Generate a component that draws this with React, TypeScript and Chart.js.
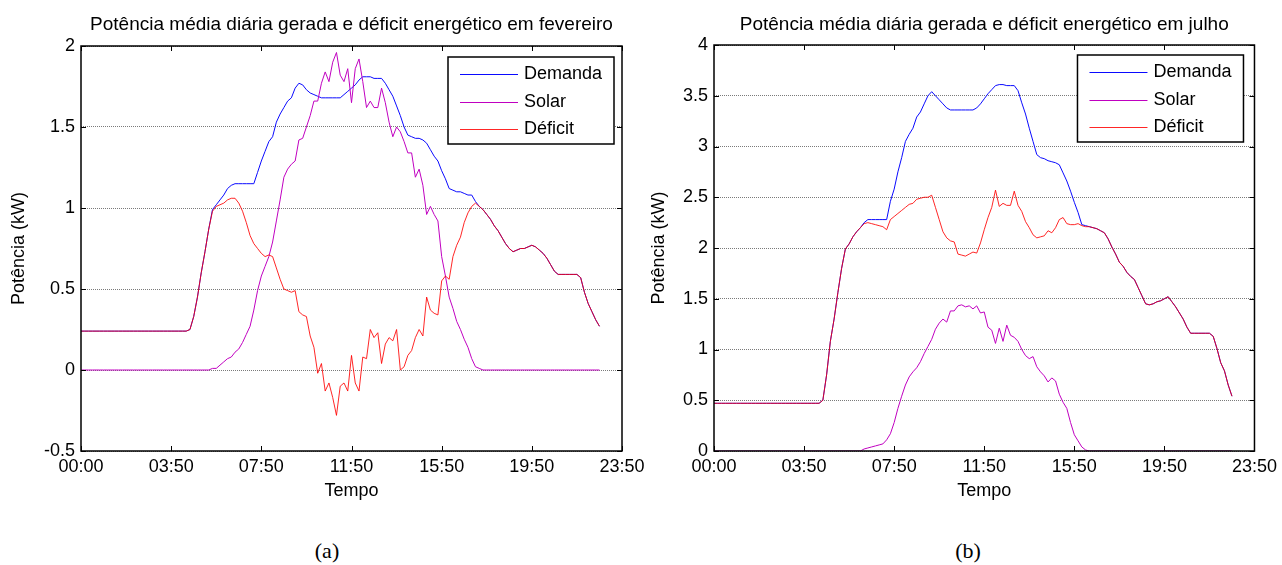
import React, { useEffect, useRef } from "react";
import { Chart, registerables } from "chart.js";

Chart.register(...registerables);

const FONT = '"Liberation Sans", Arial, Helvetica, sans-serif';
const SERIF = '"Liberation Serif", "Times New Roman", serif';

const TITLE_FEV = "Potência média diária gerada e déficit energético em fevereiro";
const TITLE_JUL = "Potência média diária gerada e déficit energético em julho";
const Y_TITLE = "Potência (kW)";
const X_TITLE = "Tempo";
const SERIES_NAMES = ["Demanda", "Solar", "Déficit"];
const SERIES_COLORS = ["#0a0aff", "#c000c0", "rgba(255,0,0,0.85)"];
const X_TICK_LABELS = ["00:00", "03:50", "07:50", "11:50", "15:50", "19:50", "23:50"];
const CAPTIONS = ["(a)", "(b)"];

// 10-minute samples, index 0 = 00:00
const DEMANDA_FEV = [
  0.24, 0.24, 0.24, 0.24, 0.24, 0.24, 0.24, 0.24, 0.24, 0.24,
  0.24, 0.24, 0.24, 0.24, 0.24, 0.24, 0.24, 0.24, 0.24, 0.24,
  0.24, 0.24, 0.24, 0.24, 0.24, 0.24, 0.24, 0.24, 0.24, 0.25,
  0.33, 0.45, 0.60, 0.73, 0.87, 0.99, 1.02, 1.05, 1.08, 1.12,
  1.14, 1.15, 1.15, 1.15, 1.15, 1.15, 1.15, 1.22, 1.29, 1.35,
  1.41, 1.44, 1.53, 1.58, 1.62, 1.66, 1.68, 1.74, 1.77, 1.76,
  1.73, 1.71, 1.70, 1.69, 1.68, 1.68, 1.68, 1.68, 1.68, 1.68,
  1.70, 1.72, 1.74, 1.76, 1.79, 1.81, 1.81, 1.81, 1.80, 1.80,
  1.80, 1.77, 1.73, 1.69, 1.63, 1.57, 1.50, 1.45, 1.44, 1.43,
  1.43, 1.42, 1.40, 1.36, 1.32, 1.29, 1.23, 1.18, 1.12, 1.11,
  1.10, 1.10, 1.09, 1.08, 1.08, 1.04, 1.01, 0.99, 0.96, 0.93,
  0.89, 0.86, 0.82, 0.78, 0.75, 0.73, 0.74, 0.75, 0.75, 0.76,
  0.77, 0.76, 0.74, 0.72, 0.69, 0.65, 0.61, 0.59, 0.59, 0.59,
  0.59, 0.59, 0.59, 0.57, 0.48, 0.41, 0.36, 0.31, 0.27,
];

const SOLAR_FEV = [
  0, 0, 0, 0, 0, 0, 0, 0, 0, 0,
  0, 0, 0, 0, 0, 0, 0, 0, 0, 0,
  0, 0, 0, 0, 0, 0, 0, 0, 0, 0,
  0, 0, 0, 0, 0, 0.01, 0.01, 0.03, 0.05, 0.07,
  0.08, 0.11, 0.13, 0.17, 0.22, 0.27, 0.37, 0.49, 0.58, 0.64,
  0.70, 0.79, 0.92, 1.05, 1.19, 1.24, 1.27, 1.29, 1.42, 1.43,
  1.50, 1.57, 1.66, 1.66, 1.77, 1.84, 1.78, 1.90, 1.96, 1.82,
  1.78, 1.86, 1.65, 1.86, 1.92, 1.78, 1.62, 1.66, 1.62, 1.62,
  1.74, 1.65, 1.53, 1.44, 1.50, 1.47, 1.41, 1.34, 1.34, 1.19,
  1.24, 1.14, 0.96, 1.01, 0.96, 0.92, 0.70, 0.58, 0.45, 0.38,
  0.30, 0.25, 0.19, 0.14, 0.07, 0.02, 0.01, 0, 0, 0,
  0, 0, 0, 0, 0, 0, 0, 0, 0, 0,
  0, 0, 0, 0, 0, 0, 0, 0, 0, 0,
  0, 0, 0, 0, 0, 0, 0, 0, 0,
];

const DEFICIT_FEV = [
  0.24, 0.24, 0.24, 0.24, 0.24, 0.24, 0.24, 0.24, 0.24, 0.24,
  0.24, 0.24, 0.24, 0.24, 0.24, 0.24, 0.24, 0.24, 0.24, 0.24,
  0.24, 0.24, 0.24, 0.24, 0.24, 0.24, 0.24, 0.24, 0.24, 0.25,
  0.33, 0.45, 0.60, 0.73, 0.87, 0.98, 1.01, 1.02, 1.03, 1.05,
  1.06, 1.06, 1.03, 0.98, 0.91, 0.83, 0.78, 0.75, 0.72, 0.70,
  0.71, 0.70, 0.63, 0.56, 0.50, 0.49, 0.48, 0.49, 0.36, 0.34,
  0.33, 0.21, 0.14, -0.02, 0.04, -0.13, -0.08, -0.17, -0.28, -0.10,
  -0.08, -0.13, 0.09, -0.08, -0.13, 0.08, 0.07, 0.25, 0.20, 0.23,
  0.04, 0.16, 0.20, 0.18, 0.25, 0.00, 0.02, 0.09, 0.12, 0.20,
  0.25, 0.21, 0.45, 0.37, 0.35, 0.34, 0.55, 0.58, 0.56, 0.70,
  0.77, 0.82, 0.91, 0.97, 1.01, 1.03, 1.01, 0.99, 0.96, 0.93,
  0.89, 0.86, 0.82, 0.78, 0.75, 0.73, 0.74, 0.75, 0.75, 0.76,
  0.77, 0.76, 0.74, 0.72, 0.69, 0.65, 0.61, 0.59, 0.59, 0.59,
  0.59, 0.59, 0.59, 0.57, 0.48, 0.41, 0.36, 0.31, 0.27,
];

const DEMANDA_JUL = [
  0.47, 0.47, 0.47, 0.47, 0.47, 0.47, 0.47, 0.47, 0.47, 0.47,
  0.47, 0.47, 0.47, 0.47, 0.47, 0.47, 0.47, 0.47, 0.47, 0.47,
  0.47, 0.47, 0.47, 0.47, 0.47, 0.47, 0.47, 0.47, 0.47, 0.50,
  0.75, 1.08, 1.30, 1.56, 1.80, 1.99, 2.04, 2.11, 2.16, 2.20,
  2.25, 2.28, 2.28, 2.28, 2.28, 2.28, 2.28, 2.46, 2.58, 2.75,
  2.89, 3.05, 3.12, 3.18, 3.29, 3.34, 3.42, 3.50, 3.54, 3.50,
  3.46, 3.42, 3.38, 3.36, 3.36, 3.36, 3.36, 3.36, 3.36, 3.36,
  3.38, 3.42, 3.47, 3.52, 3.56, 3.60, 3.61, 3.61, 3.60, 3.60,
  3.60, 3.55, 3.43, 3.32, 3.18, 3.05, 2.92, 2.89, 2.88, 2.86,
  2.85, 2.84, 2.82, 2.74, 2.66, 2.56, 2.45, 2.35, 2.23, 2.22,
  2.21, 2.20, 2.19, 2.17, 2.15, 2.09, 2.01, 1.94, 1.86, 1.82,
  1.76, 1.72, 1.69, 1.61, 1.53, 1.45, 1.44, 1.45, 1.47, 1.48,
  1.50, 1.52, 1.47, 1.42, 1.36, 1.30, 1.22, 1.16, 1.16, 1.16,
  1.16, 1.16, 1.16, 1.13, 1.01, 0.87, 0.79, 0.65, 0.54,
];

const SOLAR_JUL = [
  0, 0, 0, 0, 0, 0, 0, 0, 0, 0,
  0, 0, 0, 0, 0, 0, 0, 0, 0, 0,
  0, 0, 0, 0, 0, 0, 0, 0, 0, 0,
  0, 0, 0, 0, 0, 0, 0, 0, 0, 0,
  0.02, 0.03, 0.04, 0.05, 0.06, 0.07, 0.11, 0.17, 0.28, 0.42,
  0.54, 0.65, 0.73, 0.78, 0.82, 0.88, 0.96, 1.03, 1.10, 1.20,
  1.26, 1.30, 1.27, 1.38, 1.38, 1.43, 1.44, 1.42, 1.43, 1.40,
  1.43, 1.36, 1.37, 1.22, 1.19, 1.06, 1.21, 1.08, 1.24, 1.14,
  1.12, 1.08, 1.00, 0.94, 0.91, 0.93, 0.83, 0.78, 0.74, 0.68,
  0.72, 0.69, 0.56, 0.48, 0.42, 0.28, 0.16, 0.10, 0.04, 0.01,
  0, 0, 0, 0, 0, 0, 0, 0, 0, 0,
  0, 0, 0, 0, 0, 0, 0, 0, 0, 0,
  0, 0, 0, 0, 0, 0, 0, 0, 0, 0,
  0, 0, 0, 0, 0, 0, 0, 0, 0,
];

const DEFICIT_JUL = [
  0.47, 0.47, 0.47, 0.47, 0.47, 0.47, 0.47, 0.47, 0.47, 0.47,
  0.47, 0.47, 0.47, 0.47, 0.47, 0.47, 0.47, 0.47, 0.47, 0.47,
  0.47, 0.47, 0.47, 0.47, 0.47, 0.47, 0.47, 0.47, 0.47, 0.50,
  0.75, 1.08, 1.30, 1.56, 1.80, 1.99, 2.04, 2.11, 2.16, 2.20,
  2.24, 2.25, 2.24, 2.23, 2.22, 2.21, 2.18, 2.28, 2.31, 2.34,
  2.37, 2.40, 2.43, 2.44, 2.48, 2.49, 2.50, 2.50, 2.52, 2.40,
  2.28, 2.16, 2.10, 2.07, 2.06, 1.94, 1.93, 1.92, 1.94, 1.96,
  1.95, 2.05, 2.18, 2.30, 2.40, 2.57, 2.41, 2.44, 2.42, 2.42,
  2.56, 2.42, 2.36, 2.26, 2.20, 2.13, 2.10, 2.11, 2.12, 2.17,
  2.15, 2.20, 2.28, 2.30, 2.24, 2.23, 2.23, 2.24, 2.22, 2.21,
  2.21, 2.20, 2.19, 2.17, 2.15, 2.09, 2.01, 1.94, 1.86, 1.82,
  1.76, 1.72, 1.69, 1.61, 1.53, 1.45, 1.44, 1.45, 1.47, 1.48,
  1.50, 1.52, 1.47, 1.42, 1.36, 1.30, 1.22, 1.16, 1.16, 1.16,
  1.16, 1.16, 1.16, 1.13, 1.01, 0.87, 0.79, 0.65, 0.54,
];

const matlabFrame = {
  id: "matlabFrame",
  afterDatasetsDraw(chart: any) {
    const { ctx, chartArea: a, scales } = chart;
    const xs = scales.x;
    const ys = scales.y;
    ctx.save();
    ctx.strokeStyle = "#000";
    ctx.lineWidth = 1;
    ctx.beginPath();
    xs.ticks.forEach((t: any) => {
      const px = Math.round(xs.getPixelForValue(t.value)) + 0.5;
      ctx.moveTo(px, a.bottom);
      ctx.lineTo(px, a.bottom - 5);
      ctx.moveTo(px, a.top);
      ctx.lineTo(px, a.top + 5);
    });
    ys.ticks.forEach((t: any) => {
      const py = Math.round(ys.getPixelForValue(t.value)) + 0.5;
      ctx.moveTo(a.left, py);
      ctx.lineTo(a.left + 5, py);
      ctx.moveTo(a.right, py);
      ctx.lineTo(a.right - 5, py);
    });
    ctx.stroke();
    ctx.lineWidth = 1.5;
    ctx.strokeRect(a.left, a.top, a.right - a.left, a.bottom - a.top);
    ctx.restore();
  },
};

const centeredTitle = {
  id: "centeredTitle",
  afterDraw(chart: any, _args: any, opts: any) {
    const { ctx, chartArea: a } = chart;
    ctx.save();
    ctx.font = `19px ${FONT}`;
    ctx.fillStyle = "#000";
    ctx.textAlign = "center";
    ctx.textBaseline = "middle";
    ctx.fillText(opts.text, (a.left + a.right) / 2, opts.y);
    ctx.restore();
  },
};

const boxLegend = {
  id: "boxLegend",
  afterDraw(chart: any, _args: any, opts: any) {
    const { ctx, chartArea: a } = chart;
    const w = 166;
    const h = 87;
    const left = a.right - opts.right - w;
    const top = a.top + opts.top;
    ctx.save();
    ctx.fillStyle = "#fff";
    ctx.fillRect(left, top, w, h);
    ctx.strokeStyle = "#000";
    ctx.lineWidth = 1.5;
    ctx.strokeRect(left, top, w, h);
    ctx.font = `18px ${FONT}`;
    ctx.textBaseline = "middle";
    ctx.textAlign = "left";
    chart.data.datasets.forEach((ds: any, i: number) => {
      const yy = Math.round(top + 17 + i * 27.5) + 0.5;
      ctx.strokeStyle = ds.borderColor;
      ctx.lineWidth = 1;
      ctx.beginPath();
      ctx.moveTo(left + 12, yy);
      ctx.lineTo(left + 70, yy);
      ctx.stroke();
      ctx.fillStyle = "#000";
      ctx.fillText(ds.label, left + 76, yy);
    });
    ctx.restore();
  },
};

function buildConfig(o: any): any {
  const font = { family: FONT, size: 18, weight: "normal" };
  const labels = o.demand.map((_: number, i: number) => i);
  const mk = (idx: number, data: number[], order: number) => ({
    label: SERIES_NAMES[idx],
    data,
    borderColor: SERIES_COLORS[idx],
    backgroundColor: SERIES_COLORS[idx],
    borderWidth: 1,
    pointRadius: 0,
    fill: false,
    tension: 0,
    order,
  });
  return {
    type: "line",
    data: {
      labels,
      datasets: [mk(0, o.demand, 2), mk(1, o.solar, 1), mk(2, o.deficit, 0)],
    },
    options: {
      responsive: false,
      animation: false,
      devicePixelRatio: 1,
      events: [],
      layout: { padding: { left: 0, right: o.rightPad, top: o.topPad, bottom: 0 } },
      plugins: {
        legend: { display: false },
        tooltip: { enabled: false },
        title: { display: false },
        centeredTitle: { text: o.title, y: 25 },
        boxLegend: { right: o.legendRight, top: o.legendTop },
      },
      scales: {
        x: {
          type: "linear",
          min: 0,
          max: 144,
          afterFit: (s: any) => {
            s.height = 59;
          },
          grid: { display: false, drawTicks: false },
          border: { display: false },
          ticks: {
            stepSize: 24,
            padding: 5,
            autoSkip: false,
            maxRotation: 0,
            color: "#000",
            font,
            callback: (v: number) => X_TICK_LABELS[Math.round(v / 24)],
          },
          title: {
            display: true,
            text: X_TITLE,
            color: "#000",
            font,
            padding: { top: 0, bottom: 8 },
          },
        },
        y: {
          type: "linear",
          min: o.yMin,
          max: o.yMax,
          afterFit: (s: any) => {
            s.width = o.yAxisWidth;
          },
          grid: { color: "#7a7a7a", lineWidth: 1, drawTicks: false, borderDash: [1, 1] },
          border: { display: false, dash: [1, 1] },
          ticks: {
            stepSize: 0.5,
            padding: 6,
            color: "#000",
            font,
            callback: (v: number) => String(v),
          },
          title: {
            display: true,
            text: Y_TITLE,
            color: "#000",
            font,
            padding: { top: 8, bottom: 0 },
          },
        },
      },
    },
    plugins: [matlabFrame, boxLegend, centeredTitle],
  };
}

export default function App() {
  const refA = useRef<HTMLCanvasElement>(null);
  const refB = useRef<HTMLCanvasElement>(null);

  useEffect(() => {
    const a = new Chart(
      refA.current as HTMLCanvasElement,
      buildConfig({
        title: TITLE_FEV,
        demand: DEMANDA_FEV,
        solar: SOLAR_FEV,
        deficit: DEFICIT_FEV,
        yMin: -0.5,
        yMax: 2,
        yAxisWidth: 81,
        rightPad: 38,
        topPad: 46,
        legendRight: 8,
        legendTop: 11,
      })
    );
    const b = new Chart(
      refB.current as HTMLCanvasElement,
      buildConfig({
        title: TITLE_JUL,
        demand: DEMANDA_JUL,
        solar: SOLAR_JUL,
        deficit: DEFICIT_JUL,
        yMin: 0,
        yMax: 4,
        yAxisWidth: 74,
        rightPad: 24,
        topPad: 45,
        legendRight: 11,
        legendTop: 10,
      })
    );
    return () => {
      a.destroy();
      b.destroy();
    };
  }, []);

  const capStyle: React.CSSProperties = {
    position: "absolute",
    top: 539,
    fontFamily: SERIF,
    fontSize: 22,
    lineHeight: "24px",
    transform: "translateX(-50%)",
    color: "#000",
    whiteSpace: "nowrap",
  };

  return (
    <div
      style={{
        position: "absolute",
        left: 0,
        top: 0,
        width: 1282,
        height: 565,
        background: "#fff",
        overflow: "hidden",
      }}
    >
      <canvas
        ref={refA}
        width={660}
        height={510}
        style={{ position: "absolute", left: 0, top: 0, width: 660, height: 510 }}
      />
      <canvas
        ref={refB}
        width={642}
        height={510}
        style={{ position: "absolute", left: 640, top: 0, width: 642, height: 510 }}
      />
      <div style={{ ...capStyle, left: 327 }}>{CAPTIONS[0]}</div>
      <div style={{ ...capStyle, left: 968 }}>{CAPTIONS[1]}</div>
    </div>
  );
}
